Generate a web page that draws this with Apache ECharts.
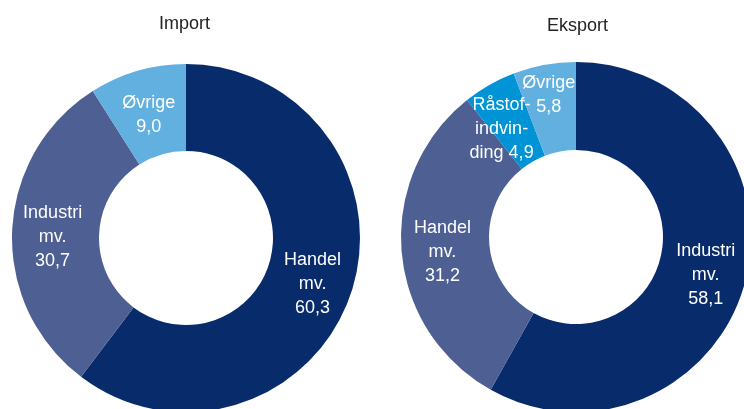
<!DOCTYPE html>
<html>
<head>
<meta charset="utf-8">
<script src="https://cdn.jsdelivr.net/npm/echarts@6/dist/echarts.min.js"></script>
<style>
html, body { margin: 0; padding: 0; background: #fff; }
#chart { width: 744px; height: 409px; }
</style>
</head>
<body>
<div id="chart"></div>
<script>
var importNames = ['Handel\nmv.', 'Industri\nmv.', 'Øvrige'];
var importValues = [60.3, 30.7, 9.0];
var importColors = ['#082b6c', '#4d5f93', '#62b0e0'];

var eksportNames = ['Industri\nmv.', 'Handel\nmv.', 'Råstof-\nindvin-\nding', 'Øvrige'];
var eksportValues = [58.1, 31.2, 4.9, 5.8];
var eksportColors = ['#082b6c', '#4d5f93', '#0093d5', '#62b0e0'];

var myChart = echarts.init(document.getElementById('chart'));

function fmt(v) {
    return v.toFixed(1).replace('.', ',');
}

function buildData(names, values, colors, offsets) {
    return names.map(function (n, i) {
        return {
            name: n,
            value: values[i],
            itemStyle: { color: colors[i] },
            label: { offset: offsets[i] }
        };
    });
}

var labelStyle = {
    show: true,
    position: 'inside',
    color: '#fff',
    fontFamily: 'Liberation Sans',
    fontSize: 18,
    lineHeight: 24
};

var titleStyle = { fontFamily: 'Liberation Sans', fontWeight: 'normal', fontSize: 18, color: '#222' };

option = {
    animation: false,
    title: [
        { text: 'Import', left: 154, top: 10, textStyle: titleStyle },
        { text: 'Eksport', left: 542, top: 12, textStyle: titleStyle }
    ],
    series: [
        {
            name: 'Import',
            type: 'pie',
            center: [186, 238],
            radius: [87, 174],
            startAngle: 90,
            clockwise: true,
            avoidLabelOverlap: false,
            label: Object.assign({}, labelStyle, {
                formatter: function (p) { return p.name + '\n' + fmt(p.value); }
            }),
            labelLine: { show: false },
            labelLayout: { hideOverlap: false },
            emphasis: { disabled: true },
            itemStyle: { borderWidth: 0 },
            data: buildData(importNames, importValues, importColors, [[0, 4], [0, 4], [0, 5]])
        },
        {
            name: 'Eksport',
            type: 'pie',
            center: [576, 237],
            radius: [87, 175],
            startAngle: 90,
            clockwise: true,
            avoidLabelOverlap: false,
            label: Object.assign({}, labelStyle, {
                formatter: function (p) {
                    if (p.dataIndex === 2) return p.name.replace(/ding$/, 'ding ' + fmt(p.value));
                    return p.name + '\n' + fmt(p.value);
                }
            }),
            labelLine: { show: false },
            labelLayout: { hideOverlap: false },
            emphasis: { disabled: true },
            itemStyle: { borderWidth: 0 },
            data: buildData(eksportNames, eksportValues, eksportColors, [[0, 4], [0, 4], [-8, 8], [-3, -10]])
        }
    ]
};

myChart.setOption(option);
window.onresize = function () {
    myChart.resize();
};
</script>
</body>
</html>
